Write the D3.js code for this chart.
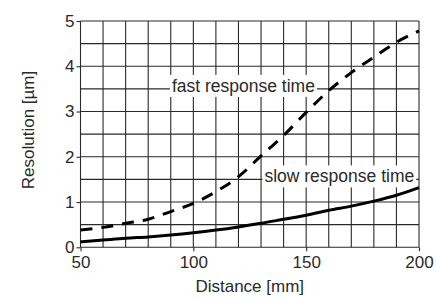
<!DOCTYPE html>
<html><head><meta charset="utf-8">
<script src="https://cdn.jsdelivr.net/npm/d3@7"></script>
<style>body{margin:0;background:#fff;}svg{display:block;font-family:"Liberation Sans",Arial,sans-serif;}</style>
</head><body>
<svg id="c" width="436" height="298"></svg>
<script>
const distance = [50,60,70,80,90,100,110,120,130,140,150,160,170,180,190,200];
const fastResponse = [0.38,0.44,0.53,0.62,0.79,0.97,1.23,1.56,2.02,2.47,2.98,3.46,3.86,4.2,4.53,4.78];
const slowResponse = [0.12,0.16,0.2,0.23,0.27,0.32,0.38,0.45,0.53,0.62,0.71,0.82,0.91,1.02,1.15,1.32];
const xTicks = [50,100,150,200];
const yTicks = [0,1,2,3,4,5];
const xGrid = d3.range(50,201,10);
const yGrid = d3.range(0,5.01,0.5);
const labels = [{text:"fast response time", x:90.5, y:3.5}, {text:"slow response time", x:131.5, y:1.5}];

const svg = d3.select("#c");
const L=80.5, R=419, T=21, B=247.3;
const x = d3.scaleLinear().domain([50,200]).range([L,R]);
const y = d3.scaleLinear().domain([0,5]).range([B,T]);
const ink="#2a2a2a";

// grid
const g = svg.append("g");
g.selectAll("line.v").data(xGrid).join("line")
  .attr("x1",d=>x(d)).attr("x2",d=>x(d)).attr("y1",T).attr("y2",B)
  .attr("stroke",ink).attr("stroke-width",1.1);
g.selectAll("line.h").data(yGrid).join("line")
  .attr("y1",d=>y(d)).attr("y2",d=>y(d)).attr("x1",L).attr("x2",R)
  .attr("stroke",ink).attr("stroke-width",1.1);

// axes
const xa = svg.append("g").attr("transform",`translate(0,${B})`)
  .call(d3.axisBottom(x).tickValues(xTicks).tickSize(4).tickPadding(5).tickFormat(d3.format("d")));
const ya = svg.append("g").attr("transform",`translate(${L},0)`)
  .call(d3.axisLeft(y).tickValues(yTicks).tickSize(4).tickPadding(2).tickFormat(d3.format("d")));
[xa,ya].forEach(a=>{
  a.select(".domain").remove();
  a.selectAll("line").attr("stroke",ink).attr("stroke-width",1.1);
  a.selectAll("text").attr("font-size",17).attr("fill",ink).attr("font-family","Liberation Sans, Arial, sans-serif");
});

// labels with white background
const lg = svg.append("g");
labels.forEach(l=>{
  const t = lg.append("text").attr("x",x(l.x)).attr("y",y(l.y)+3)
    .attr("font-size",17.5).attr("fill",ink).text(l.text);
  const bb = t.node().getBBox();
  lg.insert("rect",":first-child").attr("x",bb.x-2).attr("y",bb.y-1).attr("width",bb.width+4).attr("height",bb.height+2).attr("fill","#fff");
});

// curves
const line = (vals)=>d3.line().x((d,i)=>x(distance[i])).y(d=>y(d)).curve(d3.curveMonotoneX)(vals);
svg.append("path").attr("d",line(slowResponse)).attr("fill","none").attr("stroke","#000").attr("stroke-width",3);
svg.append("path").attr("d",line(fastResponse)).attr("fill","none").attr("stroke","#000").attr("stroke-width",3).attr("stroke-dasharray","12,9");

// titles
svg.append("text").attr("x",(L+R)/2).attr("y",292).attr("text-anchor","middle").attr("font-size",17).attr("fill",ink).text("Distance [mm]");
svg.append("text").attr("transform",`translate(34,130) rotate(-90)`).attr("text-anchor","middle").attr("font-size",17).attr("fill",ink).text("Resolution [µm]");
</script>
</body></html>
